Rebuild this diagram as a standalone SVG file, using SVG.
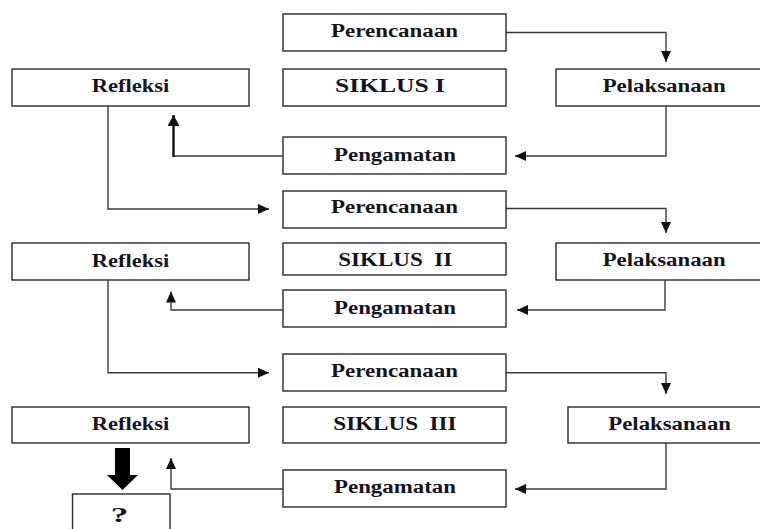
<svg xmlns="http://www.w3.org/2000/svg" width="760" height="529" viewBox="0 0 760 529">
<style>
.box{fill:#fff;stroke:#2a2a2a;stroke-width:1.4}
.t{font-family:"Liberation Serif","Times New Roman",serif;font-weight:bold;font-size:18px;fill:#14141f}
.c{fill:none;stroke:#3a3a3a;stroke-width:1.4}
.ck{fill:none;stroke:#111;stroke-width:2.4}
</style>
<defs>
<marker id="arr" markerUnits="userSpaceOnUse" markerWidth="11" markerHeight="10" refX="11" refY="5" orient="auto">
<path d="M0,0 L11,5 L0,10 z" fill="#111"/>
</marker>
<marker id="arrL" markerUnits="userSpaceOnUse" markerWidth="11" markerHeight="12" refX="11" refY="6" orient="auto">
<path d="M0,0 L11,6 L0,12 z" fill="#111"/>
</marker>
</defs>
<rect width="760" height="529" fill="#fff"/>

<g id="connectors">
<polyline class="c" points="506,32.5 666,32.5 666,62" marker-end="url(#arr)"/>
<polyline class="c" points="666,106 666,156 515,156" marker-end="url(#arr)"/>
<polyline class="c" points="283,156 173.5,156"/>
<polyline class="ck" points="173.5,157 173.5,115" marker-end="url(#arrL)"/>
<polyline class="c" points="108,106 108,209 269,209" marker-end="url(#arr)"/>
<polyline class="c" points="506,208.5 666,208.5 666,233" marker-end="url(#arr)"/>
<polyline class="c" points="665,280 665,310 517,310" marker-end="url(#arr)"/>
<polyline class="c" points="283,310 171,310 171,291.5" marker-end="url(#arr)"/>
<polyline class="c" points="108,280 108,372.7 269,372.7" marker-end="url(#arr)"/>
<polyline class="c" points="506,372.7 666,372.7 666,394" marker-end="url(#arr)"/>
<polyline class="c" points="666,443 666,489 515,489" marker-end="url(#arr)"/>
<polyline class="c" points="283,489 171,489 171,458" marker-end="url(#arr)"/>
<polygon points="115,448 130,448 130,475 138,475 122.5,490 107,475 115,475" fill="#000"/>
</g>

<g id="perencanaan1"><rect class="box" x="283" y="14" width="223" height="37"/><text class="t" x="331" y="36.7" textLength="127" lengthAdjust="spacingAndGlyphs">Perencanaan</text></g>
<g id="refleksi1"><rect class="box" x="12" y="69" width="237" height="37"/><text class="t" x="91.7" y="91.7" textLength="77.6" lengthAdjust="spacingAndGlyphs">Refleksi</text></g>
<g id="siklus1"><rect class="box" x="283" y="69" width="223" height="37"/><text class="t" x="335" y="91.7" textLength="110" lengthAdjust="spacingAndGlyphs">SIKLUS I</text></g>
<g id="pelaksanaan1"><rect class="box" x="556" y="69" width="210" height="37"/><text class="t" x="602.7" y="91.7" textLength="123" lengthAdjust="spacingAndGlyphs">Pelaksanaan</text></g>
<g id="pengamatan1"><rect class="box" x="283" y="137" width="223" height="37"/><text class="t" x="334" y="160.7" textLength="122" lengthAdjust="spacingAndGlyphs">Pengamatan</text></g>

<g id="perencanaan2"><rect class="box" x="283" y="191" width="223" height="37"/><text class="t" x="331" y="213.3" textLength="127" lengthAdjust="spacingAndGlyphs">Perencanaan</text></g>
<g id="refleksi2"><rect class="box" x="12" y="243" width="237" height="37"/><text class="t" x="91.7" y="266.5" textLength="77.6" lengthAdjust="spacingAndGlyphs">Refleksi</text></g>
<g id="siklus2"><rect class="box" x="283" y="243" width="223" height="32"/><text class="t" x="338.3" y="266" textLength="114" lengthAdjust="spacingAndGlyphs" xml:space="preserve">SIKLUS  II</text></g>
<g id="pelaksanaan2"><rect class="box" x="556" y="243" width="210" height="37"/><text class="t" x="602.7" y="266" textLength="123" lengthAdjust="spacingAndGlyphs">Pelaksanaan</text></g>
<g id="pengamatan2"><rect class="box" x="283" y="290" width="223" height="37"/><text class="t" x="334" y="314" textLength="122" lengthAdjust="spacingAndGlyphs">Pengamatan</text></g>

<g id="perencanaan3"><rect class="box" x="283" y="354" width="223" height="37"/><text class="t" x="331" y="377.3" textLength="127" lengthAdjust="spacingAndGlyphs">Perencanaan</text></g>
<g id="refleksi3"><rect class="box" x="12" y="407" width="237" height="36"/><text class="t" x="91.7" y="430" textLength="77.6" lengthAdjust="spacingAndGlyphs">Refleksi</text></g>
<g id="siklus3"><rect class="box" x="283" y="407" width="223" height="36"/><text class="t" x="333.3" y="430" textLength="123.3" lengthAdjust="spacingAndGlyphs" xml:space="preserve">SIKLUS  III</text></g>
<g id="pelaksanaan3"><rect class="box" x="568" y="407" width="198" height="36"/><text class="t" x="608.3" y="430" textLength="122.7" lengthAdjust="spacingAndGlyphs">Pelaksanaan</text></g>
<g id="pengamatan3"><rect class="box" x="283" y="470" width="223" height="37"/><text class="t" x="334" y="493.3" textLength="122" lengthAdjust="spacingAndGlyphs">Pengamatan</text></g>

<g id="hasil"><rect class="box" x="72.5" y="494" width="97.5" height="40"/><text class="t" x="110.7" y="521.7" style="font-size:22px" textLength="17.6" lengthAdjust="spacingAndGlyphs">?</text></g>
</svg>
